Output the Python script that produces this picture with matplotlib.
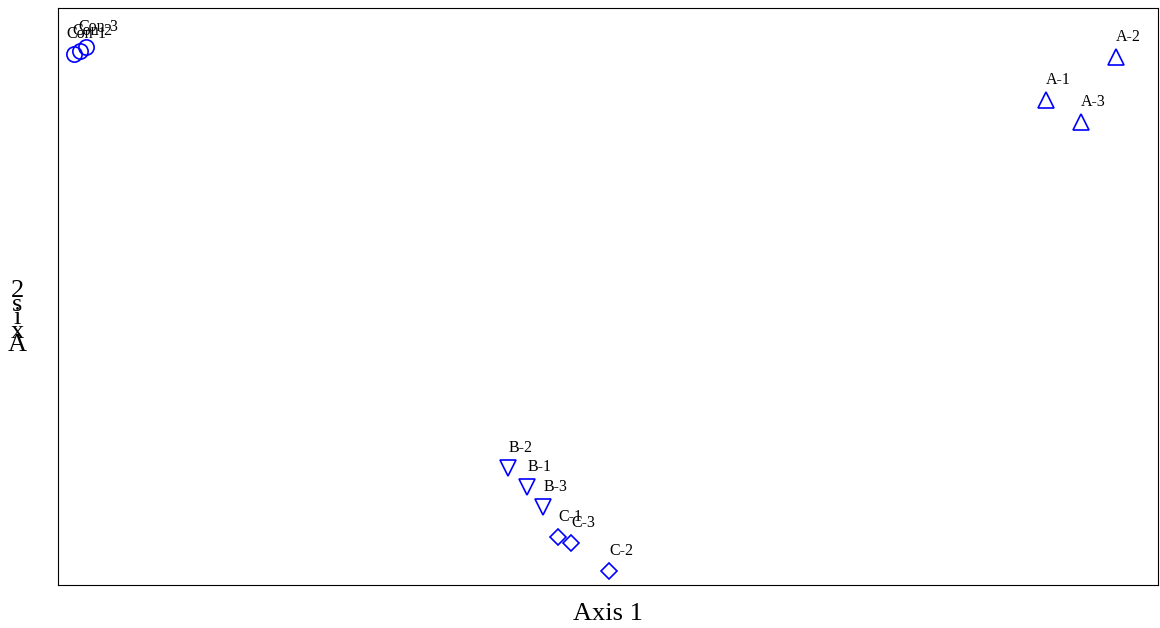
import matplotlib.pyplot as plt

plt.rcParams['font.family'] = ['Liberation Serif', 'DejaVu Serif']

# ordination scores (axis 1, axis 2)
con_lab = ["Con-1", "Con-2", "Con-3"]
con_x = [-1.068, -1.056, -1.044]
con_y = [0.933, 0.944, 0.960]

a_lab = ["A-1", "A-2", "A-3"]
a_x = [0.876, 1.016, 0.946]
a_y = [0.756, 0.921, 0.671]

b_lab = ["B-1", "B-2", "B-3"]
b_x = [-0.162, -0.200, -0.130]
b_y = [-0.733, -0.660, -0.810]

c_lab = ["C-1", "C-2", "C-3"]
c_x = [-0.100, 0.002, -0.074]
c_y = [-0.925, -1.056, -0.948]

fig = plt.figure(figsize=(11.6, 6.28), dpi=100)
ax = fig.add_axes([0.05, 0.0685, 0.9483, 0.9188])

groups = [
    (con_x, con_y, con_lab, 'o', 11),
    (a_x, a_y, a_lab, '^', 12),
    (b_x, b_y, b_lab, 'v', 12),
    (c_x, c_y, c_lab, 'D', 8.5),
]
for xs, ys, labs, m, ms in groups:
    ax.plot(xs, ys, linestyle='none', marker=m, markersize=ms,
            markerfacecolor='none', markeredgecolor='blue', markeredgewidth=1.2)
    for x, y, t in zip(xs, ys, labs):
        ax.annotate(t, (x, y), xytext=(8.8, 14.4), textcoords='offset points',
                    ha='center', va='center', fontsize=11.5)

ax.set_xlim(-1.1, 1.1)
ax.set_ylim(-1.11, 1.11)
ax.set_xticks([])
ax.set_yticks([])
for s in ax.spines.values():
    s.set_linewidth(0.8)

ax.set_xlabel("Axis 1", fontsize=19, labelpad=13)
fig.text(0.015, 0.493, "2\ns\ni\nx\nA", ha='center', va='center',
         fontsize=19, linespacing=0.5)

fig.savefig("out.png")
